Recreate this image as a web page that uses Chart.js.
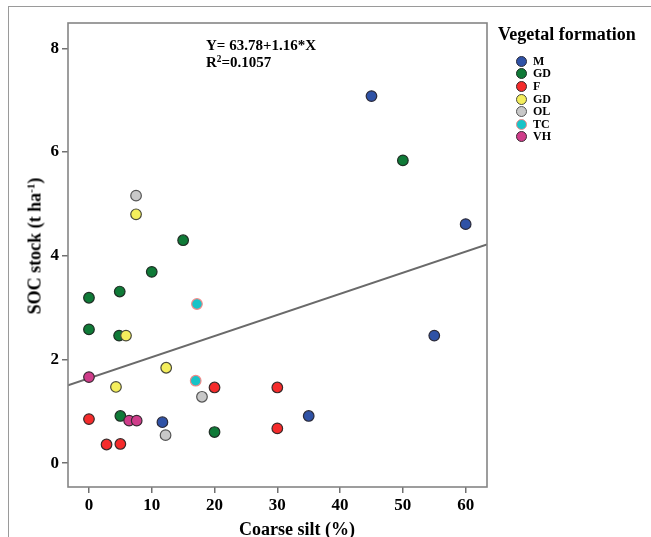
<!DOCTYPE html>
<html>
<head>
<meta charset="utf-8">
<script src="https://cdn.jsdelivr.net/npm/chart.js@4.4.1/dist/chart.umd.min.js"></script>
<style>
  body { margin: 0; background: #fff; }
  #wrap {
    position: relative; width: 651px; height: 537px; overflow: hidden;
    font-family: "Liberation Serif", "Times New Roman", serif; font-weight: bold; color: #000;
  }
  #frame {
    position: absolute; left: 8px; top: 6px; right: -2px; bottom: -2px;
    border-top: 1.5px solid #9a9a9a; border-left: 1.5px solid #9a9a9a;
  }
  #chart { position: absolute; left: 0; top: 0; }
  .txt { position: absolute; white-space: nowrap; }
  #xTitle { left: 297px; top: 529px; font-size: 18px; transform: translate(-50%, -50%); }
  #yTitle { left: 35px; top: 246px; font-size: 18px; transform: translate(-50%, -50%) rotate(-90deg); }
  #eq { left: 206px; top: 37px; font-size: 15px; line-height: 17px; }
  sup { font-size: 0.62em; vertical-align: 0.55em; line-height: 0; }
  #legTitle { left: 498px; top: 24px; font-size: 18px; }
  #legend { position: absolute; left: 516px; top: 55px; }
  .item { display: flex; align-items: center; height: 12.6px; font-size: 12px; }
  .dot { width: 11px; height: 11px; border-radius: 50%; border: 1.2px solid #3a3a3a; margin-right: 6px; box-sizing: border-box; flex: none; }
</style>
</head>
<body>
<div id="wrap">
  <div id="frame"></div>
  <canvas id="chart" width="651" height="537"></canvas>
  <div class="txt" id="eq">Y= 63.78+1.16*X<br>R<sup>2</sup>=0.1057</div>
  <div class="txt" id="xTitle">Coarse silt (%)</div>
  <div class="txt" id="yTitle">SOC stock (t ha<sup>-1</sup>)</div>
  <div class="txt" id="legTitle">Vegetal formation</div>
  <div id="legend"></div>
</div>
<script>
// 图例名称和颜色
const seriesNames = ['M', 'GD', 'F', 'GD', 'OL', 'TC', 'VH'];
const seriesColors = ['#2f52a6', '#0f7a37', '#f52b2b', '#f4ee5c', '#c8c8c8', '#18c3c7', '#cf3c8a'];
const seriesBorders = ['#2b2b3a', '#1f2f25', '#3a2a2a', '#4a4a3a', '#555555', '#f08a8a', '#3a2a33'];

// 各植被类型的数据点 (Coarse silt %, SOC stock)
const mX = [45, 60, 55, 35, 11.7];
const mY = [7.08, 4.61, 2.46, 0.91, 0.79];
const gdX = [50, 15, 10, 0, 4.9, 0, 4.8, 5, 20];
const gdY = [5.84, 4.30, 3.69, 3.19, 3.31, 2.58, 2.46, 0.91, 0.60];
const fX = [20, 30, 0, 2.8, 5, 30];
const fY = [1.46, 1.46, 0.85, 0.36, 0.37, 0.67];
const gd2X = [7.5, 5.9, 12.3, 4.3];
const gd2Y = [4.80, 2.46, 1.84, 1.47];
const olX = [7.5, 18, 12.2];
const olY = [5.16, 1.28, 0.54];
const tcX = [17.2, 17];
const tcY = [3.07, 1.59];
const vhX = [0, 6.4, 7.6];
const vhY = [1.66, 0.82, 0.82];

// 回归线两端
const fitX = [-3.34, 63.4];
const fitY = [1.50, 4.22];

// 坐标轴
const xTicks = [0, 10, 20, 30, 40, 50, 60];
const yTicks = [0, 2, 4, 6, 8];
const xRange = [-3.34, 63.4];
const yRange = [-0.46, 8.49];

const allX = [mX, gdX, fX, gd2X, olX, tcX, vhX];
const allY = [mY, gdY, fY, gd2Y, olY, tcY, vhY];

const toPoints = (xs, ys) => xs.map((x, i) => ({ x: x, y: ys[i] }));

// HTML 图例
const legendEl = document.getElementById('legend');
seriesNames.forEach((name, i) => {
  legendEl.innerHTML += `<div class="item"><span class="dot" style="background:${seriesColors[i]};border-color:${seriesBorders[i]}"></span>${name}</div>`;
});

const datasets = seriesNames.map((name, i) => ({
  label: name,
  data: toPoints(allX[i], allY[i]),
  backgroundColor: seriesColors[i],
  borderColor: seriesBorders[i],
  borderWidth: 1.2,
  pointRadius: 5.3,
  order: 10 - i
}));

datasets.push({
  type: 'line',
  label: 'fit',
  data: toPoints(fitX, fitY),
  borderColor: '#6a6a6a',
  borderWidth: 2,
  pointRadius: 0,
  fill: false,
  order: 100
});

// 绘图区四周边框
const frameBox = {
  id: 'frameBox',
  afterDraw(chart) {
    const { ctx, chartArea: a } = chart;
    ctx.save();
    ctx.strokeStyle = '#858585';
    ctx.lineWidth = 1.6;
    ctx.strokeRect(a.left, a.top, a.right - a.left, a.bottom - a.top);
    ctx.restore();
  }
};

const tickFont = { family: '"Liberation Serif", "Times New Roman", serif', size: 17, weight: 'bold' };

new Chart(document.getElementById('chart'), {
  type: 'scatter',
  data: { datasets: datasets },
  options: {
    responsive: false,
    animation: false,
    layout: { padding: { left: 0, top: 23, right: 164, bottom: 0 } },
    plugins: { legend: { display: false }, tooltip: { enabled: false } },
    scales: {
      x: {
        type: 'linear',
        min: xRange[0],
        max: xRange[1],
        afterBuildTicks: (s) => { s.ticks = xTicks.map(v => ({ value: v })); },
        afterFit: (s) => { s.height = 50; },
        grid: { drawOnChartArea: false, drawTicks: true, tickLength: 6, color: '#707070', lineWidth: 1.5 },
        border: { display: false },
        ticks: { color: '#000', font: tickFont, padding: 2, maxRotation: 0 }
      },
      y: {
        type: 'linear',
        min: yRange[0],
        max: yRange[1],
        afterBuildTicks: (s) => { s.ticks = yTicks.map(v => ({ value: v })); },
        afterFit: (s) => { s.width = 68; },
        grid: { drawOnChartArea: false, drawTicks: true, tickLength: 6, color: '#707070', lineWidth: 1.5 },
        border: { display: false },
        ticks: { color: '#000', font: tickFont, padding: 3 }
      }
    }
  },
  plugins: [frameBox]
});
</script>
</body>
</html>
